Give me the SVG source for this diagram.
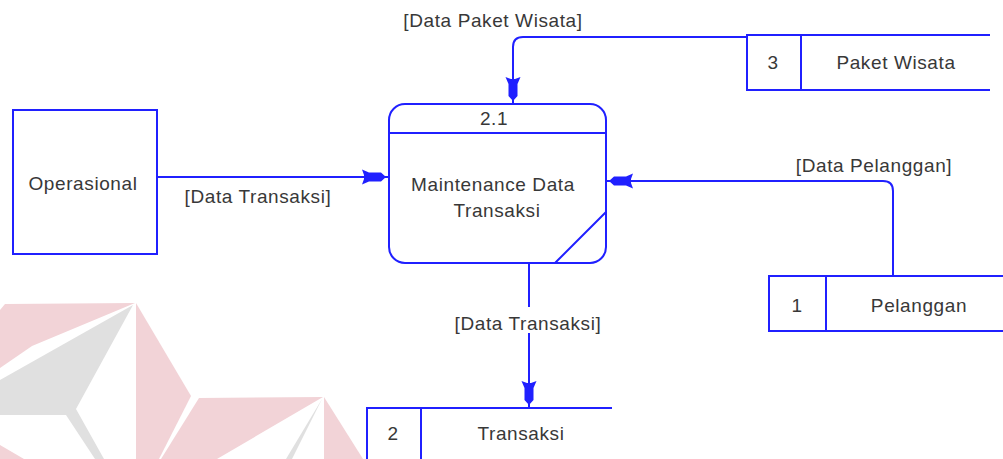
<svg xmlns="http://www.w3.org/2000/svg" width="1003" height="459" viewBox="0 0 1003 459">
  <style>
    .ln { fill: none; stroke: #2020ff; stroke-width: 2; }
    .box { fill: #ffffff; stroke: #2020ff; stroke-width: 2; }
    .tx { font-family: "Liberation Sans", Arial, sans-serif; font-size: 19px; letter-spacing: 0.6px; fill: #383838; text-anchor: middle; }
    .wm-pink { fill: #f2d3d7; }
    .wm-grey { fill: #e0e0e0; }
  </style>
  <defs>
    <marker id="flow" viewBox="-26 -9 30 18" markerWidth="30" markerHeight="18" refX="3" refY="0" markerUnits="userSpaceOnUse" orient="auto">
      <path d="M0,0 L-5,-4.5 L-17,-4.5 L-24,-7.5 L-22,-2 L-22,2 L-24,7.5 L-17,4.5 L-5,4.5 Z" fill="#2020ff"/>
    </marker>
  </defs>

  <rect width="1003" height="459" fill="#ffffff"/>

  <!-- background logo -->
  <g id="logo">
    <polygon class="wm-pink" points="5,304 135,303 32,346 0,368 0,310"/>
    <polygon class="wm-grey" points="133,305 0,380 0,415 66,415 95,459 104,459 76,409"/>
    <polygon class="wm-pink" points="0,445 0,459 24,459"/>
    <polygon class="wm-pink" points="136,303 191,396 159,459 136,459"/>
    <polygon class="wm-pink" points="199,398 323,397 217,459 161,459"/>
    <polygon class="wm-grey" points="322,399 292,459 286,459"/>
    <polygon class="wm-pink" points="324,397 363,459 324,459"/>
  </g>

  <!-- connectors -->
  <g id="connectors">
    <path class="ln" d="M157,177 H389" marker-end="url(#flow)"/>
    <path class="ln" d="M747,37 H523 Q513,37 513,47 V104" marker-end="url(#flow)"/>
    <path class="ln" d="M893,276 V191 Q893,181 883,181 H606" marker-end="url(#flow)"/>
    <path class="ln" d="M529,263 V307"/>
    <path class="ln" d="M529,333 V408" marker-end="url(#flow)"/>
    <text class="tx" x="493" y="27">[Data Paket Wisata]</text>
    <text class="tx" x="258" y="203">[Data Transaksi]</text>
    <text class="tx" x="874" y="172">[Data Pelanggan]</text>
    <text class="tx" x="528" y="330">[Data Transaksi]</text>
  </g>

  <!-- external entity -->
  <g id="operasional">
    <rect class="box" x="13" y="110" width="144" height="144"/>
    <text class="tx" x="83" y="190">Operasional</text>
  </g>

  <!-- process 2.1 -->
  <g id="process-2-1">
    <rect class="box" x="389" y="104" width="217" height="159" rx="16" ry="16"/>
    <path class="ln" d="M389,133 H606 M555,263 L606,212"/>
    <text class="tx" x="494" y="125">2.1</text>
    <text class="tx" x="493" y="191">Maintenance Data</text>
    <text class="tx" x="497" y="217">Transaksi</text>
  </g>

  <!-- data store 3 -->
  <g id="store-paket-wisata">
    <rect x="747" y="35" width="243" height="55" fill="#ffffff"/>
    <path class="ln" d="M990,35 H747 V90 H990 M801,35 V90"/>
    <text class="tx" x="773" y="69">3</text>
    <text class="tx" x="896" y="69">Paket Wisata</text>
  </g>

  <!-- data store 1 -->
  <g id="store-pelanggan">
    <rect x="769" y="276" width="234" height="55" fill="#ffffff"/>
    <path class="ln" d="M1003,276 H769 V331 H1003 M826,276 V331"/>
    <text class="tx" x="797" y="312">1</text>
    <text class="tx" x="919" y="312">Pelanggan</text>
  </g>

  <!-- data store 2 -->
  <g id="store-transaksi">
    <rect x="367" y="408" width="245" height="52" fill="#ffffff"/>
    <path class="ln" d="M612,408 H367 V460 M421,408 V460"/>
    <text class="tx" x="393" y="440">2</text>
    <text class="tx" x="521" y="440">Transaksi</text>
  </g>
</svg>
